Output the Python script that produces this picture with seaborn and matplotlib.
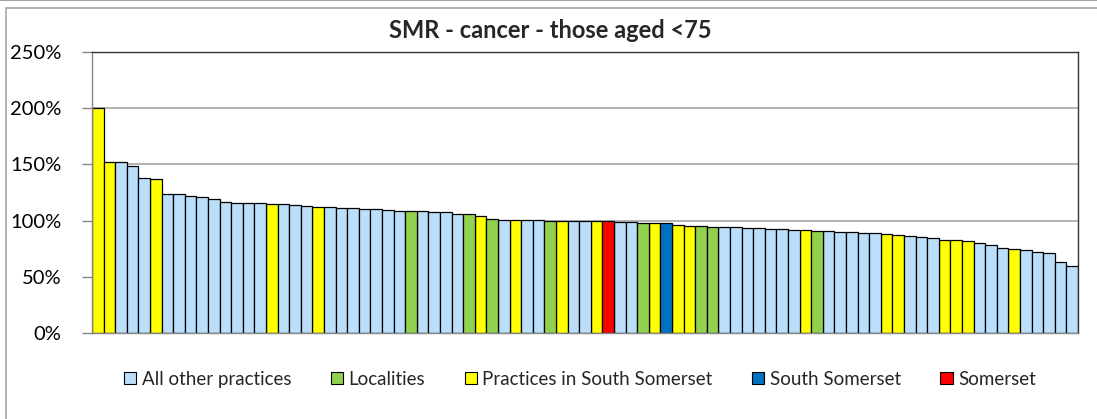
import numpy as np
import pandas as pd
import matplotlib
matplotlib.use("Agg")
import matplotlib.pyplot as plt
from matplotlib.patches import Patch, Rectangle
from matplotlib.lines import Line2D
from matplotlib.ticker import FuncFormatter
import seaborn as sns

# SMR values (%), in plotted order
smr = [
    200.0, 152.4, 151.9, 148.6, 138.2, 137.3, 124.0, 123.4, 121.6, 121.3,
    118.9, 116.8, 116.0, 116.0, 115.4, 115.1, 115.1, 113.6, 113.0, 112.4,
    111.8, 111.5, 110.9, 110.6, 110.6, 109.7, 108.8, 108.8, 108.2, 107.7,
    107.7, 105.6, 105.6, 104.4, 101.7, 100.8, 100.8, 100.5, 100.5, 99.6,
    99.6, 99.6, 99.6, 99.9, 99.6, 99.0, 98.5, 98.2, 98.2, 97.9,
    96.1, 95.5, 94.9, 94.6, 94.6, 94.6, 93.7, 93.4, 92.8, 92.5,
    91.9, 91.9, 90.4, 90.4, 89.9, 89.6, 88.7, 88.7, 87.8, 86.9,
    86.6, 85.4, 84.2, 83.0, 82.4, 82.1, 80.1, 78.0, 75.6, 74.4,
    73.6, 72.4, 70.9, 63.5, 59.9,
]

# group code per bar: B=all other, G=locality, Y=practice in South Somerset,
# D=South Somerset, R=Somerset
group_codes = (
    "YYBBBY" + "B" * 9 + "Y" + "BBB" + "Y" + "B" * 7 + "G" + "BBBB" + "GYGBYBBGYBBYRBBGYDYYGG"
    + "B" * 7 + "YG" + "B" * 5 + "YY" + "BBB" + "YYY" + "BBB" + "Y" + "B" * 5
)

group_names = {
    "B": "All other practices",
    "G": "Localities",
    "Y": "Practices in South Somerset",
    "D": "South Somerset",
    "R": "Somerset",
}
legend_order = ["All other practices", "Localities", "Practices in South Somerset",
                "South Somerset", "Somerset"]
colors = {
    "All other practices": "#BBDFFB",
    "Localities": "#92D050",
    "Practices in South Somerset": "#FFFF00",
    "South Somerset": "#0070C0",
    "Somerset": "#FF0000",
}

df = pd.DataFrame({
    "pos": [str(i) for i in range(len(smr))],
    "SMR": smr,
    "Group": [group_names[c] for c in group_codes],
})

sns.set_style("white")
plt.rcParams["font.family"] = ["Lato", "DejaVu Sans"]

fig = plt.figure(figsize=(10.97, 4.19), dpi=100)
ax = fig.add_axes([92 / 1097, 1 - 333 / 419, (1078 - 92) / 1097, (333 - 52) / 419])

sns.barplot(data=df, x="pos", y="SMR", hue="Group", palette=colors, dodge=False,
            width=1.0, edgecolor="black", linewidth=0.9, legend=False, ax=ax,
            order=df["pos"].tolist(), saturation=1)

ax.set_xlim(-0.5, len(smr) - 0.5)
ax.set_ylim(0, 250)
ax.set_yticks(np.arange(0, 251, 50))
ax.yaxis.set_major_formatter(FuncFormatter(lambda v, p: f"{v:.0f}%"))
ax.set_xticks([])
ax.set_xlabel("")
ax.set_ylabel("")
ax.yaxis.grid(True, color="#A6A6A6", linewidth=1.2)
ax.set_axisbelow(True)
ax.tick_params(axis="y", labelsize=14.5, left=True, length=7, width=1,
               color="#868686", pad=15, labelcolor="black")
for side in ["top", "right"]:
    ax.spines[side].set_color("#333333")
    ax.spines[side].set_linewidth(1.0)
for side in ["left", "bottom"]:
    ax.spines[side].set_color("#868686")
    ax.spines[side].set_linewidth(1.0)
    ax.spines[side].set_visible(True)

fig.text(550 / 1097, 1 - 30 / 419, "SMR - cancer - those aged <75", ha="center",
         va="center", fontsize=17, fontweight="bold")

handles = [Patch(facecolor=colors[n], edgecolor="black", linewidth=0.8) for n in legend_order]
fig.legend(handles, legend_order, loc="center", bbox_to_anchor=(580 / 1097, 1 - 379 / 419),
           ncol=5, frameon=False, fontsize=13.5, handlelength=0.65, handleheight=0.65,
           handletextpad=0.3, columnspacing=2.1)

# outer chart frame
fig.patches.append(Rectangle((6 / 1097, -0.1), 1.2, 1 - 8 / 419 + 0.1,
                             transform=fig.transFigure, fill=False,
                             edgecolor="#A6A6A6", linewidth=1.2))
fig.lines.append(Line2D([0, 1], [0.999, 0.999], transform=fig.transFigure,
                        color="#A6A6A6", linewidth=1.5))

fig.savefig("out.png", dpi=100)
